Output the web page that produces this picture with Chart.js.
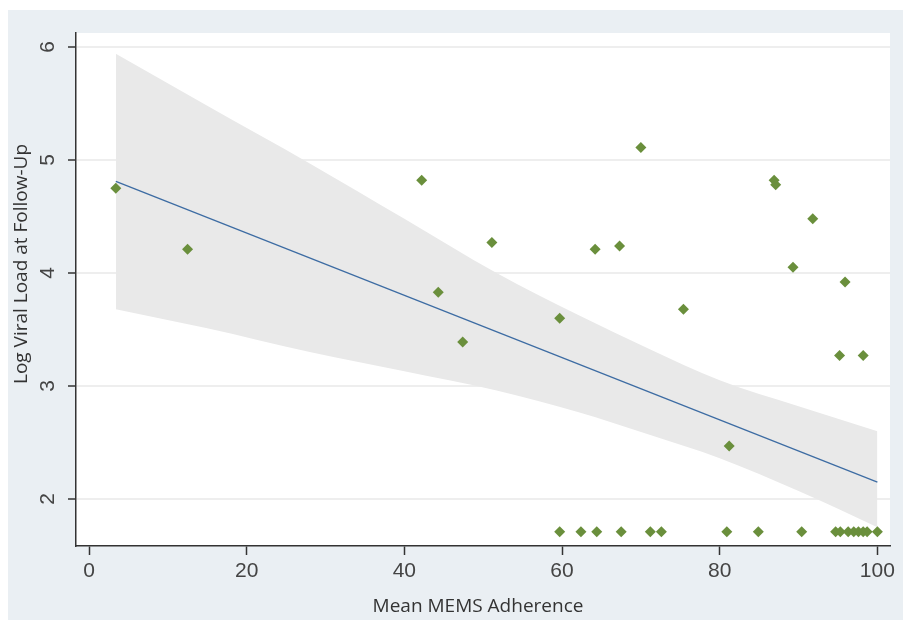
<!DOCTYPE html>
<html>
<head>
<meta charset="utf-8">
<script src="https://cdn.jsdelivr.net/npm/chart.js@4.4.0/dist/chart.umd.min.js"></script>
<style>
  html, body { margin: 0; padding: 0; background: #fff; }
  #wrap { width: 903px; height: 620px; }
</style>
</head>
<body>
<div id="wrap"><canvas id="chart" width="903" height="620"></canvas></div>
<script>
// values
const adherence = [3.4, 12.5, 42.2, 44.3, 47.4, 51.1, 59.7, 64.2, 67.3, 70.0, 75.4, 81.2,
                   86.9, 87.1, 89.3, 91.8, 95.9, 95.2, 98.2,
                   59.7, 62.4, 64.4, 67.5, 71.2, 72.6, 80.9, 84.9, 90.4,
                   94.7, 95.3, 96.3, 97.0, 97.6, 98.2, 98.7, 100.0];
const viralLoad = [4.75, 4.21, 4.82, 3.83, 3.39, 4.27, 3.60, 4.21, 4.24, 5.11, 3.68, 2.47,
                   4.82, 4.78, 4.05, 4.48, 3.92, 3.27, 3.27,
                   1.71, 1.71, 1.71, 1.71, 1.71, 1.71, 1.71, 1.71, 1.71,
                   1.71, 1.71, 1.71, 1.71, 1.71, 1.71, 1.71, 1.71];

// fitted line and its confidence band
const fitX = [3.4, 100];
const fitY = [4.81, 2.15];
const bandX = [3.4, 15, 28, 40, 51.7, 62, 71, 80, 90, 100];
const bandUpper = [5.94, 5.48, 4.97, 4.48, 4.00, 3.63, 3.33, 3.05, 2.82, 2.60];
const bandLower = [3.68, 3.51, 3.30, 3.13, 2.96, 2.77, 2.57, 2.36, 2.07, 1.75];

const xTicks = [0, 20, 40, 60, 80, 100];
const yTicks = [2, 3, 4, 5, 6];

const xTitle = 'Mean MEMS Adherence';
const yTitle = 'Log Viral Load at Follow-Up';

const pts = (xs, ys) => xs.map((x, i) => ({ x: x, y: ys[i] }));

// gray panel, white plot region, rotated y labels and axis titles
const framePlugin = {
    id: 'frame',
    beforeDraw(chart) {
        const ctx = chart.ctx, a = chart.chartArea;
        ctx.save();
        ctx.fillStyle = '#ffffff';
        ctx.fillRect(0, 0, chart.width, chart.height);
        ctx.fillStyle = '#eaeff3';
        ctx.fillRect(8, 10, chart.width - 8, chart.height - 10);
        ctx.fillStyle = '#ffffff';
        ctx.fillRect(a.left, a.top, a.right - a.left, a.bottom - a.top);
        ctx.restore();
    },
    afterDraw(chart) {
        const ctx = chart.ctx, ys = chart.scales.y;
        ctx.save();
        ctx.fillStyle = '#444';
        ctx.font = '21px "Liberation Sans", Arial, sans-serif';
        ctx.textAlign = 'center';
        ctx.textBaseline = 'middle';
        yTicks.forEach(v => {
            ctx.save();
            ctx.translate(47, ys.getPixelForValue(v));
            ctx.rotate(-Math.PI / 2);
            ctx.fillText(String(v), 0, 1);
            ctx.restore();
        });
        ctx.fillStyle = '#333';
        ctx.font = '19px "Open Sans", sans-serif';
        ctx.fillText(xTitle, 478, 607);
        ctx.translate(22, 264);
        ctx.rotate(-Math.PI / 2);
        ctx.fillText(yTitle, 0, 0);
        ctx.restore();
    }
};

new Chart(document.getElementById('chart'), {
    type: 'scatter',
    data: {
        datasets: [
            {
                label: 'observed',
                data: pts(adherence, viralLoad),
                pointStyle: 'rectRot',
                pointRadius: 5.5,
                pointBackgroundColor: '#6a8f3c',
                pointBorderWidth: 0,
                order: 0
            },
            {
                label: 'fit',
                data: pts(fitX, fitY),
                showLine: true,
                borderColor: '#3d6ca3',
                borderWidth: 1.3,
                pointRadius: 0,
                order: 1
            },
            {
                label: 'upper',
                data: pts(bandX, bandUpper),
                showLine: true,
                borderWidth: 0,
                borderColor: 'rgba(0,0,0,0)',
                backgroundColor: '#e9e9e9',
                fill: '+1',
                cubicInterpolationMode: 'monotone',
                pointRadius: 0,
                order: 2
            },
            {
                label: 'lower',
                data: pts(bandX, bandLower),
                showLine: true,
                borderWidth: 0,
                borderColor: 'rgba(0,0,0,0)',
                cubicInterpolationMode: 'monotone',
                pointRadius: 0,
                order: 3
            }
        ]
    },
    options: {
        responsive: false,
        animation: false,
        devicePixelRatio: 1,
        layout: { padding: { left: 0, top: 33, right: 13, bottom: 0 } },
        plugins: {
            legend: { display: false },
            tooltip: { enabled: false }
        },
        scales: {
            x: {
                type: 'linear',
                min: -1.65,
                max: 101.6,
                afterBuildTicks: s => { s.ticks = xTicks.map(v => ({ value: v })); },
                afterFit: s => { s.height = 74; },
                border: { display: true, color: '#333', width: 1.5 },
                grid: {
                    drawOnChartArea: false,
                    drawTicks: true,
                    tickLength: 9,
                    tickColor: '#333',
                    tickWidth: 1.5
                },
                ticks: {
                    color: '#444',
                    font: { family: '"Liberation Sans", Arial, sans-serif', size: 21 },
                    padding: 4,
                    maxRotation: 0
                }
            },
            y: {
                type: 'linear',
                min: 1.584,
                max: 6.124,
                afterBuildTicks: s => { s.ticks = yTicks.map(v => ({ value: v })); },
                afterFit: s => { s.width = 76; },
                border: { display: true, color: '#333', width: 1.5 },
                grid: {
                    color: '#eeeeee',
                    lineWidth: 2,
                    drawTicks: true,
                    tickLength: 8,
                    tickColor: '#333',
                    tickWidth: 1.5
                },
                ticks: { display: false }
            }
        }
    },
    plugins: [framePlugin]
});
</script>
</body>
</html>
